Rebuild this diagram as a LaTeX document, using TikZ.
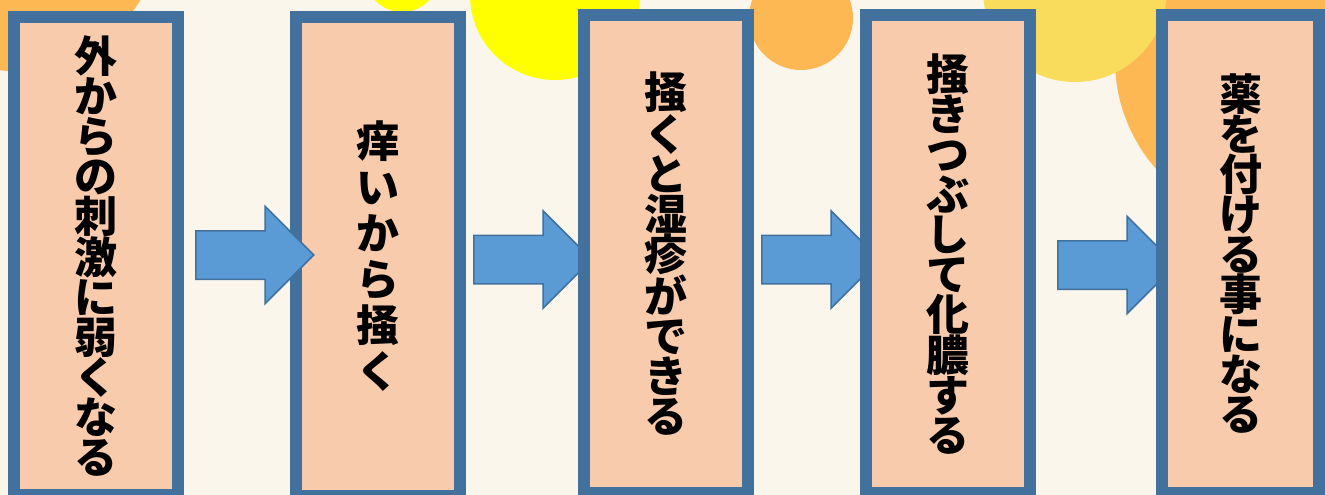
\documentclass[tikz,border=0pt]{standalone}
\usepackage{fontspec}
\newfontfamily\jpfont{Noto Sans CJK JP}
\usetikzlibrary{positioning, shapes.arrows}
\definecolor{cream}{HTML}{FAF6EC}
\definecolor{peach}{HTML}{F8CBAD}
\definecolor{steel}{HTML}{41719C}
\definecolor{arrowblue}{HTML}{5B9BD5}
\definecolor{sunorange}{HTML}{FDB753}
\definecolor{sunyellow}{HTML}{FFFF00}
\definecolor{paleyellow}{HTML}{F9DC5C}

\begin{document}
\begin{tikzpicture}[x=1pt, y=1pt,
    flowbox/.style={rectangle, draw=steel, line width=12pt, fill=peach, minimum width=164pt, minimum height=478pt, inner sep=0pt, align=center, font=\jpfont\bfseries\fontsize{43}{40}\selectfont},
    blockarr/.style={single arrow, draw=steel, line width=1.5pt, fill=arrowblue, minimum height=118pt, inner xsep=0pt, inner ysep=23.5pt, single arrow head extend=24.5pt}]

    % background
    \useasboundingbox (0,0) rectangle (1325,-495);
    \clip (0,0) rectangle (1325,-495);
    \fill[cream] (0,0) rectangle (1325,-495);
    \fill[sunorange] (14,77) circle (148);
    \fill[sunyellow] (402,25) circle (37);
    \fill[sunyellow] (555,5) circle (85);
    \fill[sunorange] (801,-18) circle (52);
    \fill[sunorange] (1280,-60) circle (165);
    \fill[paleyellow] (1075,10) circle (92);

    % boxes and arrows
    \node (skin) [flowbox] at (96,-256) {外\\か\\ら\\の\\刺\\激\\に\\弱\\く\\な\\る};
    \node (itch) [flowbox, right=106pt of skin, yshift=-0.5pt, font=\jpfont\bfseries\fontsize{43}{46}\selectfont] {痒\\い\\か\\ら\\掻\\く};
    \node (a1) [blockarr, right=11pt of skin, yshift=1pt] {};
    \node (a2) [blockarr, right=7pt of itch, yshift=-3pt] {};
    \node (rash) [flowbox, right=112pt of itch, yshift=2.5pt] {掻\\く\\と\\湿\\疹\\が\\で\\き\\る};
    \node (a3) [blockarr, right=7pt of rash, yshift=-5.5pt] {};
    \node (pus) [flowbox, right=106pt of rash] {掻\\き\\つ\\ぶ\\し\\て\\化\\膿\\す\\る};
    \node (a4) [blockarr, right=21pt of pus, yshift=-11pt] {};
    \node (drug) [flowbox, right=120pt of pus, minimum width=157pt] {薬\\を\\付\\け\\る\\事\\に\\な\\る};
\end{tikzpicture}
\end{document}
